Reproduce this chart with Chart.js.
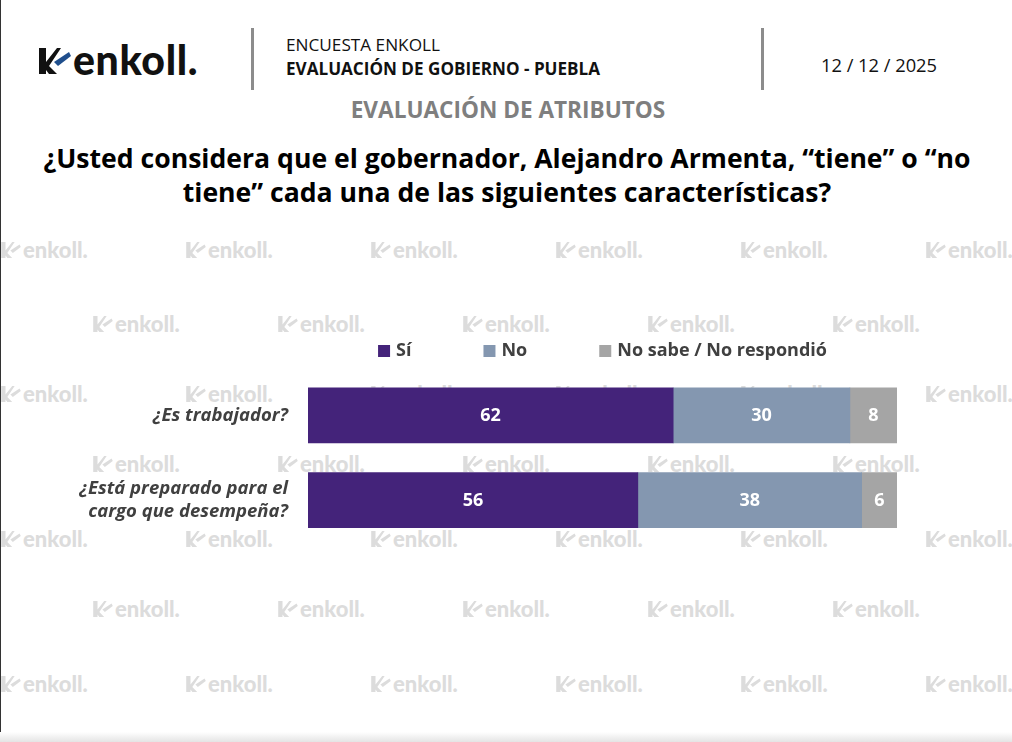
<!DOCTYPE html>
<html>
<head>
<meta charset="utf-8">
<script src="https://cdn.jsdelivr.net/npm/chart.js@4"></script>
<style>
  html, body { margin: 0; padding: 0; background: #fff; }
  body { width: 1012px; height: 742px; position: relative; overflow: hidden; font-family: "Open Sans", sans-serif; }
  .edge { position: absolute; left: 0; top: 0; width: 1px; height: 742px; background: #333; }
  .shadow { position: absolute; left: 0; bottom: 0; width: 1012px; height: 10px; background: linear-gradient(#fff, #e4e4e4); }
  .wm { position: absolute; color: #dcdcdc; font-family: Lato, sans-serif; font-weight: 900; font-size: 22px; white-space: nowrap; }
  .wm svg { vertical-align: -4px; margin-right: 1px; }
  .vline { position: absolute; top: 28px; width: 3px; height: 62px; background: #8c8c8c; }
  .abs { position: absolute; white-space: nowrap; }
  #chartBox { position: absolute; left: 0; top: 330px; width: 1012px; height: 236px; }
</style>
</head>
<body>
<div id="wms"></div>
<div class="edge"></div>
<div class="shadow"></div>

<!-- header -->
<div class="abs" style="left:37px; top:35px; font-family:Lato, sans-serif; font-weight:900; font-size:41px; color:#111; letter-spacing:0.6px;">
  <svg width="36" height="36" viewBox="0 0 36 34" style="vertical-align:-4px">
    <path d="M2 4 L9 4 L9 18 L20 4 L24 4 L12 22 L20 30 L12 30 L9 26 L9 30 L2 30 Z" fill="#111"/>
    <path d="M17 18 L32 8 L34 12 L21 22 Z" fill="#1f4e8c"/>
  </svg>enkoll.
</div>
<div class="vline" style="left:251px;"></div>
<div class="vline" style="left:761px;"></div>
<div class="abs" style="left:286px; top:33px; font-size:17.2px; color:#111;">ENCUESTA ENKOLL</div>
<div class="abs" style="left:286px; top:57px; font-size:17.1px; font-weight:700; color:#111;">EVALUACIÓN DE GOBIERNO - PUEBLA</div>
<div class="abs" style="left:821px; top:52px; font-size:18.3px; color:#111;">12 / 12 / 2025</div>
<div class="abs" style="left:0; width:1016px; text-align:center; top:94px; font-size:22.6px; font-weight:700; color:#7f7f7f;">EVALUACIÓN DE ATRIBUTOS</div>
<div class="abs" style="left:0; width:1014px; text-align:center; top:141px; font-size:26.6px; font-weight:700; color:#000; line-height:34px; white-space:normal;">
  ¿Usted considera que el gobernador, Alejandro Armenta, “tiene” o “no<br>tiene” cada una de las siguientes características?
</div>

<div id="chartBox"><canvas id="barChart"></canvas></div>

<script>
// --- DATA ---
const categories = [
  '¿Es trabajador?',
  ['¿Está preparado para el', 'cargo que desempeña?']
];
const seriesNames = ['Sí', 'No', 'No sabe / No respondió'];
const siValues = [62, 56];
const noValues = [30, 38];
const nsValues = [8, 6];
const seriesColors = ['#44237a', '#8497b0', '#a5a5a5'];

// --- WATERMARKS ---
const wmBox = document.getElementById('wms');
const wmRows = [236, 310, 380, 450, 525, 595, 670];
wmRows.forEach(function (y, i) {
  const start = i % 2 === 0 ? 0 : 92;
  for (let x = start; x < 1012; x += 185) {
    const d = document.createElement('div');
    d.className = 'wm';
    d.style.left = x + 'px';
    d.style.top = y + 'px';
    d.innerHTML = '<svg width="22" height="24" viewBox="0 0 36 34"><path d="M2 4 L9 4 L9 18 L20 4 L24 4 L12 22 L20 30 L12 30 L9 26 L9 30 L2 30 Z" fill="#dcdcdc"/><path d="M17 18 L32 8 L34 12 L21 22 Z" fill="#dcdcdc"/></svg>enkoll.';
    wmBox.appendChild(d);
  }
});

// --- PLUGINS ---
const valueLabels = {
  id: 'valueLabels',
  afterDatasetsDraw(chart) {
    const c = chart.ctx;
    c.save();
    c.fillStyle = '#fff';
    c.font = 'bold 18px "Open Sans"';
    c.textAlign = 'center';
    c.textBaseline = 'middle';
    chart.data.datasets.forEach(function (ds, i) {
      chart.getDatasetMeta(i).data.forEach(function (bar, j) {
        const mid = (bar.x + bar.base) / 2;
        c.fillText(ds.data[j], mid, bar.y + 1);
      });
    });
    c.restore();
  }
};

const centerLegend = {
  id: 'centerLegend',
  afterDraw(chart) {
    const c = chart.ctx;
    const area = chart.chartArea;
    c.save();
    c.font = 'bold 18px "Open Sans"';
    c.textBaseline = 'middle';
    const box = 12, gap = 6, space = 72;
    const widths = chart.data.datasets.map(ds => box + gap + c.measureText(ds.label).width);
    const total = widths.reduce((a, b) => a + b, 0) + space * (widths.length - 1);
    let x = (area.left + area.right) / 2 - total / 2;
    const y = 21;
    chart.data.datasets.forEach(function (ds, i) {
      c.fillStyle = ds.backgroundColor;
      c.fillRect(x, y - box / 2, box, box);
      c.fillStyle = '#404040';
      c.fillText(ds.label, x + box + gap, y);
      x += widths[i] + space;
    });
    c.restore();
  }
};

// --- CHART ---
const ctx = document.getElementById('barChart');
new Chart(ctx, {
  type: 'bar',
  data: {
    labels: categories,
    datasets: [
      { label: seriesNames[0], data: siValues, backgroundColor: seriesColors[0] },
      { label: seriesNames[1], data: noValues, backgroundColor: seriesColors[1] },
      { label: seriesNames[2], data: nsValues, backgroundColor: seriesColors[2] }
    ]
  },
  options: {
    indexAxis: 'y',
    responsive: true,
    maintainAspectRatio: false,
    animation: false,
    layout: { padding: { top: 43, right: 115, bottom: 5, left: 0 } },
    datasets: { bar: { barThickness: 55, borderWidth: 0 } },
    plugins: { legend: { display: false }, tooltip: { enabled: false } },
    scales: {
      x: { stacked: true, min: 0, max: 100, display: false },
      y: {
        stacked: true,
        grid: { display: false },
        border: { display: false },
        afterFit(scale) { scale.width = 308; },
        ticks: {
          color: '#404040',
          padding: 12,
          font: { family: 'Open Sans', size: 18.5, weight: 'bold', style: 'italic', lineHeight: 1.25 }
        }
      }
    }
  },
  plugins: [valueLabels, centerLegend]
});
</script>
</body>
</html>
